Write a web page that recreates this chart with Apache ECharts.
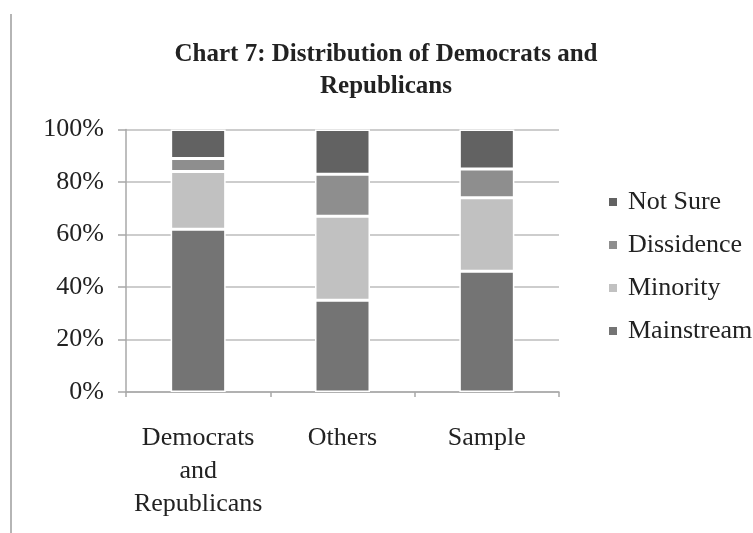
<!DOCTYPE html>
<html>
<head>
<meta charset="utf-8">
<style>
  html, body { margin: 0; padding: 0; background: #fff; }
  #chart { width: 753px; height: 533px; }
</style>
<script src="https://cdn.jsdelivr.net/npm/echarts@6/dist/echarts.min.js"></script>
</head>
<body>
<div id="chart"></div>
<script>
// Groups shown along the x axis
const categories = ['Democrats and Republicans', 'Others', 'Sample'];

// Share of each group (percent), bottom segment first
const mainstream = [62, 35, 46];
const minority   = [22, 32, 28];
const dissidence = [5, 16, 11];
const notSure    = [11, 17, 15];

// Y axis ticks
const yTicks = { min: 0, max: 100, step: 20 };

const serif = '"Liberation Serif", "DejaVu Serif", serif';
const textColor = '#222';

const seriesDefs = [
  { name: 'Mainstream', data: mainstream, color: '#747474' },
  { name: 'Minority',   data: minority,   color: '#c1c1c1' },
  { name: 'Dissidence', data: dissidence, color: '#8e8e8e' },
  { name: 'Not Sure',   data: notSure,    color: '#626262' }
];

const chart = echarts.init(document.getElementById('chart'), null, { renderer: 'canvas' });

chart.setOption({
  backgroundColor: '#fff',
  animation: false,
  title: {
    text: 'Chart 7: Distribution of Democrats and\nRepublicans',
    left: 381,
    top: 34,
    textAlign: 'center',
    textStyle: {
      fontFamily: serif,
      fontWeight: 'bold',
      fontSize: 25,
      lineHeight: 32,
      color: textColor
    }
  },
  legend: {
    orient: 'vertical',
    left: 607,
    top: 189,
    padding: 0,
    itemWidth: 10,
    itemHeight: 10,
    itemGap: 17,
    icon: 'rect',
    data: ['Not Sure', 'Dissidence', 'Minority', 'Mainstream'],
    textStyle: {
      fontFamily: serif,
      fontSize: 26,
      color: textColor,
      padding: [0, 0, 0, 5]
    }
  },
  grid: {
    left: 126,
    right: 194,
    top: 129.5,
    bottom: 141,
    containLabel: false
  },
  xAxis: {
    type: 'category',
    data: categories,
    axisLine: { lineStyle: { color: '#a8a8a8', width: 1.5 } },
    axisTick: { show: true, length: 5, lineStyle: { color: '#a8a8a8', width: 1.5 } },
    axisLabel: {
      interval: 0,
      fontFamily: serif,
      fontSize: 26,
      lineHeight: 33,
      color: textColor,
      margin: 30,
      formatter: v => v.split(' ').join('\n')
    }
  },
  yAxis: {
    type: 'value',
    min: yTicks.min,
    max: yTicks.max,
    interval: yTicks.step,
    axisLine: { show: true, lineStyle: { color: '#a8a8a8', width: 1.5 } },
    axisTick: { show: true, length: 8, lineStyle: { color: '#a8a8a8', width: 1.5 } },
    splitLine: { lineStyle: { color: '#bcbcbc', width: 1.5 } },
    axisLabel: {
      fontFamily: serif,
      fontSize: 26,
      color: textColor,
      margin: 22,
      formatter: '{value}%'
    }
  },
  series: seriesDefs.map(s => ({
    name: s.name,
    type: 'bar',
    stack: 'total',
    data: s.data,
    barWidth: 55,
    itemStyle: { color: s.color, borderColor: '#fff', borderWidth: 1.5 }
  })),
  graphic: [{
    type: 'rect',
    shape: { x: 10, y: 14, width: 2, height: 519 },
    style: { fill: '#b5b5b5' },
    silent: true
  }]
});
</script>
</body>
</html>
